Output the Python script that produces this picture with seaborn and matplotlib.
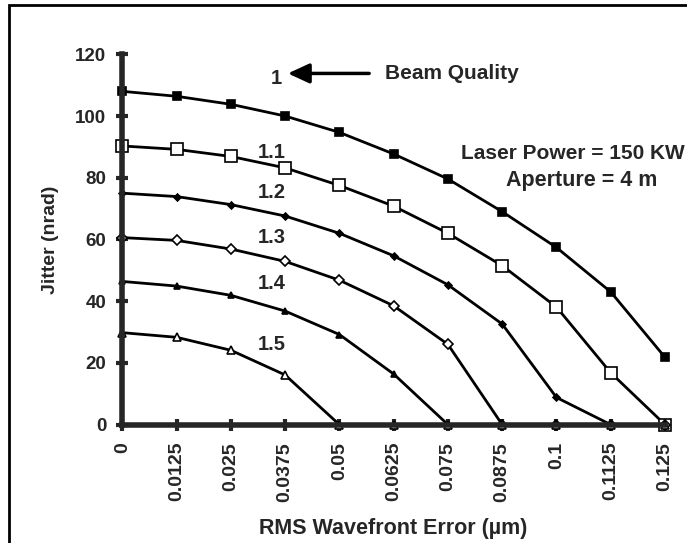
import pandas as pd
import matplotlib.pyplot as plt
import seaborn as sns
from matplotlib.patches import Rectangle

# Datos
rms_error = [0, 0.0125, 0.025, 0.0375, 0.05, 0.0625, 0.075, 0.0875, 0.1, 0.1125, 0.125]
tick_labels = ['0', '0.0125', '0.025', '0.0375', '0.05', '0.0625', '0.075',
               '0.0875', '0.1', '0.1125', '0.125']

bq_1_0 = [108, 106.4, 103.8, 100, 94.7, 87.7, 79.6, 69, 57.4, 43, 21.8]
bq_1_1 = [90.3, 89.2, 86.9, 83.2, 77.5, 70.8, 62, 51.5, 38.1, 16.8, 0]
bq_1_2 = [75, 73.9, 71.3, 67.6, 62, 54.7, 45.3, 32.6, 8.8, 0, 0]
bq_1_3 = [60.6, 59.7, 56.9, 52.9, 46.8, 38.5, 26, 0, 0, 0, 0]
bq_1_4 = [46.4, 44.9, 41.9, 36.8, 29.2, 16.4, 0, 0, 0, 0, 0]
bq_1_5 = [29.8, 28.3, 24.1, 16.1, 0, 0, 0, 0, 0, 0, 0]

series = [
    ('1', bq_1_0, 's', 'black', 6),
    ('1.1', bq_1_1, 's', 'white', 8),
    ('1.2', bq_1_2, 'D', 'black', 3.5),
    ('1.3', bq_1_3, 'D', 'white', 5.5),
    ('1.4', bq_1_4, '^', 'black', 4),
    ('1.5', bq_1_5, '^', 'white', 6),
]
label_pos = {'1.1': 88.3, '1.2': 75.3, '1.3': 60.6, '1.4': 45.8, '1.5': 26}

sns.set_style('ticks')
plt.rcParams['font.family'] = ['Liberation Sans', 'DejaVu Sans']
plt.rcParams['font.weight'] = 'bold'

fig = plt.figure(figsize=(6.87, 5.43), dpi=100)
ax = fig.add_axes([0.178, 0.218, 0.79, 0.682])

for name, vals, mk, fc, ms in series:
    df = pd.DataFrame({'x': rms_error, 'y': vals})
    sns.lineplot(data=df, x='x', y='y', ax=ax, color='black', linewidth=2,
                 marker=mk, markersize=ms, markerfacecolor=fc,
                 markeredgecolor='black', markeredgewidth=1.2, clip_on=False,
                 zorder=3)

ax.set_xlim(0, 0.125)
ax.set_ylim(0, 120)
ax.set_xticks(rms_error)
ax.set_xticklabels(tick_labels, rotation=90, fontsize=14, fontweight='bold')
ax.set_yticks([0, 20, 40, 60, 80, 100, 120])
ax.tick_params(axis='y', labelsize=13.5, direction='inout', length=9, width=3, pad=7)
ax.tick_params(axis='x', direction='inout', length=9, width=3, pad=8)
for s in ['top', 'right']:
    ax.spines[s].set_visible(False)
for s in ['left', 'bottom']:
    ax.spines[s].set_linewidth(4)
    ax.spines[s].set_zorder(4)

ax.set_xlabel('RMS Wavefront Error (µm)', fontsize=15.5, fontweight='bold', labelpad=12)
ax.set_ylabel('Jitter (nrad)', fontsize=14, fontweight='bold', labelpad=12)

# Etiquetas de las curvas
ax.text(0.0354, 112, '1', fontsize=14.5, fontweight='bold', ha='center', va='center')
for name, y in label_pos.items():
    ax.text(0.0345, y, name, fontsize=14.5, fontweight='bold', ha='center', va='center')
ax.annotate('', xy=(0.0375, 113.8), xytext=(0.0575, 113.8),
            arrowprops=dict(arrowstyle='-|>,head_length=1.3,head_width=0.6',
                            color='black', lw=2.5))
ax.text(0.0605, 113.8, 'Beam Quality', fontsize=15, fontweight='bold', va='center')
ax.text(0.1038, 87.7, 'Laser Power = 150 KW', fontsize=15, fontweight='bold',
        ha='center', va='center', clip_on=False)
ax.text(0.1057, 79.2, 'Aperture = 4 m', fontsize=15.5, fontweight='bold',
        ha='center', va='center', clip_on=False)

# Marco de la figura (recortado a la derecha y abajo)
fig.patches.append(Rectangle((0.013, -0.1), 1.2, 1.09, transform=fig.transFigure,
                             fill=False, edgecolor='black', linewidth=2))

fig.savefig('out.png', dpi=100)
